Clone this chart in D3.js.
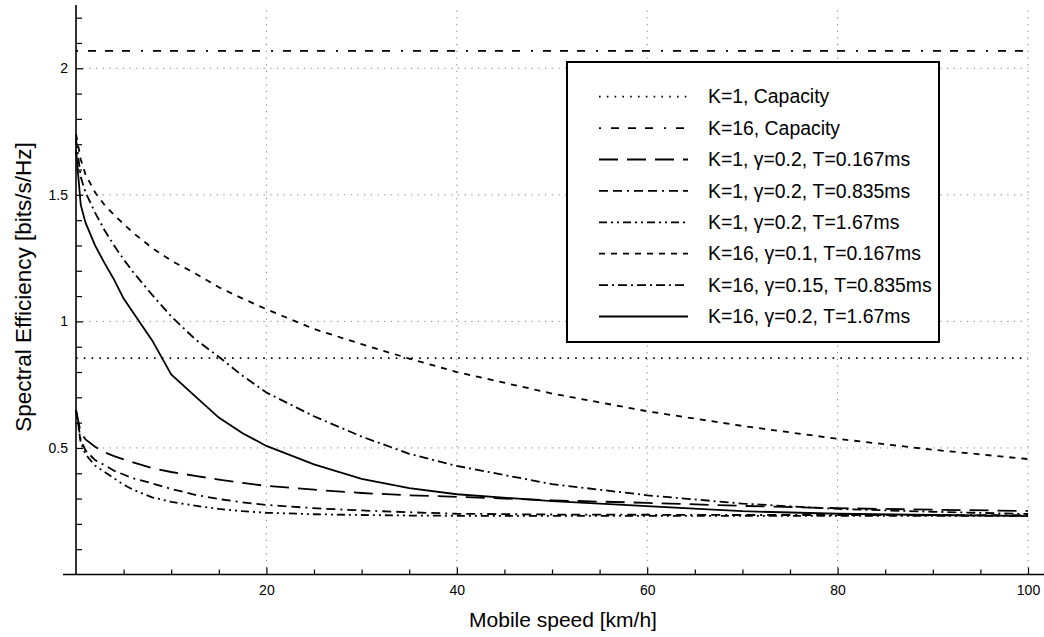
<!DOCTYPE html>
<html lang="en">
<head>
  <meta charset="utf-8">
  <script src="https://d3js.org/d3.v7.min.js"></script>
  <title>Spectral efficiency vs mobile speed</title>
  <style>
    body { margin: 0; background: #fff; }
    svg { font-family: "Liberation Sans", Arial, sans-serif; }
    .grid line { stroke: #808080; stroke-width: 1; stroke-dasharray: 1.2 5.5; }
    .axis line { stroke: #000; stroke-width: 1.2; }
    .axis text { font-size: 14px; fill: #000; }
    .curve { fill: none; stroke: #000; stroke-width: 1.8; }
  </style>
</head>
<body>
<svg id="chart" width="1044" height="637"></svg>
<script>
// speeds in km/h, shared by all the curves
const speeds = [0, 0.5, 1, 2, 3, 4, 5, 6, 8, 10, 12.5, 15, 17.5, 20, 25, 30, 35, 40, 50, 60, 70, 80, 90, 100];

const k16g01 = [1.74, 1.64, 1.58, 1.51, 1.46, 1.42, 1.385, 1.35, 1.29, 1.24, 1.19, 1.135, 1.09, 1.048, 0.97, 0.91, 0.853, 0.80, 0.715, 0.645, 0.587, 0.536, 0.493, 0.456];
const k16g015 = [1.72, 1.57, 1.51, 1.43, 1.36, 1.30, 1.245, 1.195, 1.105, 1.02, 0.93, 0.86, 0.785, 0.719, 0.625, 0.545, 0.477, 0.429, 0.357, 0.313, 0.28, 0.259, 0.248, 0.239];
const k16g02 = [1.68, 1.46, 1.39, 1.30, 1.23, 1.165, 1.09, 1.035, 0.925, 0.79, 0.705, 0.62, 0.558, 0.508, 0.435, 0.378, 0.341, 0.317, 0.29, 0.27, 0.25, 0.24, 0.235, 0.231];
const k1t0167 = [0.65, 0.56, 0.534, 0.505, 0.483, 0.468, 0.455, 0.443, 0.42, 0.405, 0.39, 0.375, 0.362, 0.35, 0.335, 0.322, 0.313, 0.307, 0.293, 0.283, 0.271, 0.262, 0.256, 0.251];
const k1t0835 = [0.65, 0.53, 0.49, 0.452, 0.432, 0.41, 0.395, 0.38, 0.36, 0.338, 0.315, 0.298, 0.285, 0.275, 0.262, 0.253, 0.246, 0.24, 0.237, 0.236, 0.235, 0.235, 0.234, 0.234];
const k1t167 = [0.65, 0.52, 0.475, 0.43, 0.405, 0.38, 0.355, 0.335, 0.305, 0.287, 0.272, 0.259, 0.25, 0.244, 0.238, 0.235, 0.233, 0.232, 0.232, 0.232, 0.232, 0.232, 0.232, 0.232];

const capK1 = 0.855;
const capK16 = 2.069;

const xTicks = [20, 40, 60, 80, 100];
const yTicks = [0.5, 1, 1.5, 2];

const labels = [
  "K=1, Capacity",
  "K=16, Capacity",
  "K=1, \u03b3=0.2, T=0.167ms",
  "K=1, \u03b3=0.2, T=0.835ms",
  "K=1, \u03b3=0.2, T=1.67ms",
  "K=16, \u03b3=0.1, T=0.167ms",
  "K=16, \u03b3=0.15, T=0.835ms",
  "K=16, \u03b3=0.2, T=1.67ms"
];

// line styles, same order as labels
const dashes = [
  "1.6 6.2",
  "2 10 8 9 8 9 8 11",
  "19 9",
  "9 5 9 5 2 5",
  "8 4 2 4 2 4",
  "6 6",
  "9 4 2 4",
  null
];

const series = [
  { values: speeds.map(() => capK1), style: 0 },
  { values: speeds.map(() => capK16), style: 1 },
  { values: k1t0167, style: 2 },
  { values: k1t0835, style: 3 },
  { values: k1t167, style: 4 },
  { values: k16g01, style: 5 },
  { values: k16g015, style: 6 },
  { values: k16g02, style: 7 }
];

const svg = d3.select("#chart");

let x = d3.scaleLinear().domain([0, 100]).range([76, 1028]);
let y = d3.scaleLinear().domain([0, 2.25]).range([574.5, 5]);

// grid
let grid = svg.append("g").attr("class", "grid");
grid.selectAll(".h").data(yTicks).join("line")
  .attr("x1", x(0)).attr("x2", x(100))
  .attr("y1", d => y(d)).attr("y2", d => y(d));
grid.selectAll(".v").data(xTicks).join("line")
  .attr("x1", d => x(d)).attr("x2", d => x(d))
  .attr("y1", y(0)).attr("y2", y(2.25));

// minor ticks
svg.append("g").attr("class", "axis")
  .attr("transform", `translate(0,${y(0)})`)
  .call(d3.axisBottom(x).tickValues(d3.range(5, 100, 5).filter(d => d % 20 != 0)).tickSize(-5).tickFormat(""))
  .call(g => g.select(".domain").remove());
svg.append("g").attr("class", "axis")
  .attr("transform", `translate(${x(0)},0)`)
  .call(d3.axisLeft(y).tickValues(d3.range(1, 23).map(d => d / 10).filter(d => Math.round(d * 10) % 5 != 0)).tickSize(-6).tickFormat(""))
  .call(g => g.select(".domain").remove());

// major ticks
svg.append("g").attr("class", "axis")
  .attr("transform", `translate(0,${y(0)})`)
  .call(d3.axisBottom(x).tickValues(xTicks).tickSize(-7).tickPadding(11))
  .call(g => g.select(".domain").remove());
svg.append("g").attr("class", "axis")
  .attr("transform", `translate(${x(0)},0)`)
  .call(d3.axisLeft(y).tickValues(yTicks).tickSize(-7).tickPadding(8).tickFormat(d3.format("")))
  .call(g => g.select(".domain").remove());

// axis lines
svg.append("line").attr("x1", 63).attr("x2", 1044).attr("y1", y(0)).attr("y2", y(0))
  .style("stroke", "#000").style("stroke-width", 1.6);
svg.append("line").attr("x1", x(0)).attr("x2", x(0)).attr("y1", y(2.25)).attr("y2", y(0))
  .style("stroke", "#000").style("stroke-width", 1.6);

// curves
let line = d3.line()
  .x((d, i) => x(speeds[i]))
  .y(d => y(d));

svg.append("g").selectAll("path")
  .data(series)
  .join("path")
  .attr("class", "curve")
  .attr("d", d => line(d.values))
  .style("stroke-dasharray", d => dashes[d.style]);

// axis titles
svg.append("text")
  .attr("x", 563).attr("y", 627)
  .attr("text-anchor", "middle")
  .style("font-size", "21px")
  .text("Mobile speed [km/h]");
svg.append("text")
  .attr("transform", "translate(31,287) rotate(-90)")
  .attr("text-anchor", "middle")
  .style("font-size", "22.5px")
  .text("Spectral Efficiency [bits/s/Hz]");

// legend
let legend = svg.append("g");
legend.append("rect")
  .attr("x", 567).attr("y", 62).attr("width", 372).attr("height", 280)
  .style("fill", "#fff").style("stroke", "#000").style("stroke-width", 2);

let rows = legend.selectAll(".row").data(labels).join("g")
  .attr("transform", (d, i) => `translate(0,${96.7 + i * 31.4})`);
rows.append("line")
  .attr("x1", 599).attr("x2", 688)
  .style("stroke", "#000").style("stroke-width", 1.8)
  .style("stroke-dasharray", (d, i) => dashes[i]);
rows.append("text")
  .attr("x", 708).attr("dy", "0.35em")
  .style("font-size", "19.4px")
  .text(d => d);
</script>
</body>
</html>
